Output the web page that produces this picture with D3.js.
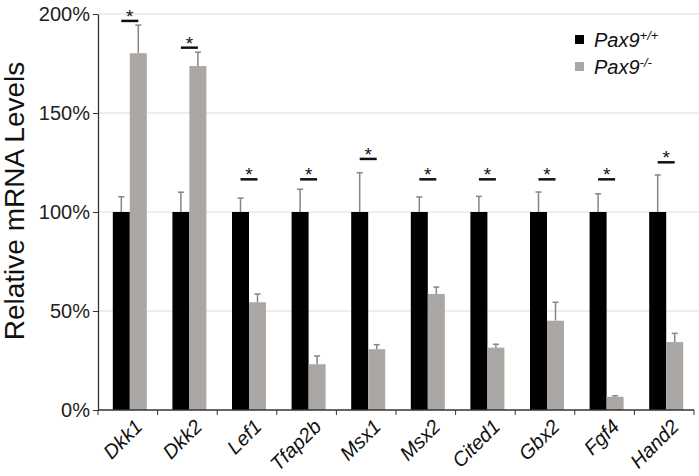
<!DOCTYPE html>
<html>
<head>
<meta charset="utf-8">
<script src="https://cdn.jsdelivr.net/npm/d3@7"></script>
<style>
  body { margin: 0; background: #fff; }
  svg { font-family: "Liberation Sans", Arial, sans-serif; }
</style>
</head>
<body>
<div id="vis"></div>
<script>
const WIDTH = 699;
const HEIGHT = 476;

// genes on the x axis
const genes = ["Dkk1", "Dkk2", "Lef1", "Tfap2b", "Msx1", "Msx2", "Cited1", "Gbx2", "Fgf4", "Hand2"];
// Pax9+/+ (set to 100%) and its error
const wildType = [100, 100, 100, 100, 100, 100, 100, 100, 100, 100];
const wildTypeErr = [7.7, 10, 7, 11.5, 19.8, 7.6, 7.9, 10.1, 9.2, 18.7];
// Pax9-/- and its error
const mutant = [180.2, 173.7, 54.4, 23.1, 30.7, 58.6, 31.5, 45.1, 6.7, 34.3];
const mutantErr = [14.2, 7, 4.2, 4.2, 2.3, 3.5, 1.7, 9.3, 0.5, 4.4];
// height of the significance marks
const sigLevel = [196.5, 183, 116.5, 116.5, 126.8, 116.5, 116.5, 116.5, 116.5, 125.1];
const yTicks = [0, 50, 100, 150, 200];

const LEFT = 98, RIGHT = 694, TOP = 14, BOTTOM = 410;
const BAR_W = 17;

const FRAME = d3.select("#vis")
  .append("svg")
    .attr("width", WIDTH)
    .attr("height", HEIGHT);

const X_SCALE = d3.scaleBand()
  .domain(genes)
  .range([LEFT, RIGHT]);

const Y_SCALE = d3.scaleLinear()
  .domain([0, 200])
  .range([BOTTOM, TOP]);

// gridlines
FRAME.append("g")
  .selectAll("line")
  .data(yTicks.filter(d => d > 0))
  .enter()
  .append("line")
    .attr("x1", LEFT)
    .attr("x2", WIDTH)
    .attr("y1", d => Y_SCALE(d))
    .attr("y2", d => Y_SCALE(d))
    .attr("stroke", "#dcdcdc")
    .attr("stroke-width", 1);

// where the pair of bars starts inside each band
const pairStart = (g) => X_SCALE(g) + (X_SCALE.bandwidth() - 2 * BAR_W) / 2 + 2;

const rows = genes.map((g, i) => ({
  gene: g, wt: wildType[i], wtErr: wildTypeErr[i],
  mu: mutant[i], muErr: mutantErr[i], sig: sigLevel[i]
}));

// error bars, upper half only
function errorBars(key, errKey, offset) {
  const g = FRAME.append("g")
    .attr("stroke", "#858585")
    .attr("stroke-width", 1.5);
  g.selectAll("line.stem")
    .data(rows)
    .enter()
    .append("line")
      .attr("x1", d => pairStart(d.gene) + offset + BAR_W / 2)
      .attr("x2", d => pairStart(d.gene) + offset + BAR_W / 2)
      .attr("y1", d => Y_SCALE(d[key]))
      .attr("y2", d => Y_SCALE(d[key] + d[errKey]));
  g.selectAll("line.cap")
    .data(rows)
    .enter()
    .append("line")
      .attr("x1", d => pairStart(d.gene) + offset + BAR_W / 2 - 3)
      .attr("x2", d => pairStart(d.gene) + offset + BAR_W / 2 + 3)
      .attr("y1", d => Y_SCALE(d[key] + d[errKey]))
      .attr("y2", d => Y_SCALE(d[key] + d[errKey]));
}
errorBars("wt", "wtErr", 0);
errorBars("mu", "muErr", BAR_W);

// bars
FRAME.append("g")
  .selectAll("rect")
  .data(rows)
  .enter()
  .append("rect")
    .attr("x", d => pairStart(d.gene))
    .attr("y", d => Y_SCALE(d.wt))
    .attr("width", BAR_W)
    .attr("height", d => BOTTOM - Y_SCALE(d.wt))
    .attr("fill", "#000");

FRAME.append("g")
  .selectAll("rect")
  .data(rows)
  .enter()
  .append("rect")
    .attr("x", d => pairStart(d.gene) + BAR_W)
    .attr("y", d => Y_SCALE(d.mu))
    .attr("width", BAR_W)
    .attr("height", d => BOTTOM - Y_SCALE(d.mu))
    .attr("fill", "#aaa7a5");

// significance marks
const sig = FRAME.append("g");
sig.selectAll("line")
  .data(rows)
  .enter()
  .append("line")
    .attr("x1", d => pairStart(d.gene) + BAR_W / 2)
    .attr("x2", d => pairStart(d.gene) + BAR_W * 1.5)
    .attr("y1", d => Y_SCALE(d.sig))
    .attr("y2", d => Y_SCALE(d.sig))
    .attr("stroke", "#111")
    .attr("stroke-width", 2.5);
sig.selectAll("text")
  .data(rows)
  .enter()
  .append("text")
    .attr("x", d => pairStart(d.gene) + BAR_W)
    .attr("y", d => Y_SCALE(d.sig) + 2)
    .attr("text-anchor", "middle")
    .attr("font-size", "19px")
    .attr("fill", "#111")
    .text("*");

// y axis
const yAxis = FRAME.append("g")
  .attr("transform", "translate(" + LEFT + ",0)")
  .call(d3.axisLeft(Y_SCALE).tickValues(yTicks).tickSize(5).tickSizeOuter(0)
    .tickFormat(d => d + "%"));
yAxis.select(".domain").attr("stroke", "#333").attr("stroke-width", 1.3);
yAxis.selectAll(".tick line").attr("stroke", "#333");
yAxis.selectAll("text")
  .attr("font-size", "20px")
  .attr("fill", "#222")
  .attr("x", -8);

// x axis: ticks on the band edges
const xAxis = FRAME.append("g")
  .attr("transform", "translate(0," + BOTTOM + ")");
xAxis.append("line")
  .attr("x1", LEFT).attr("x2", RIGHT)
  .attr("stroke", "#333").attr("stroke-width", 1.3);
xAxis.selectAll("line.edge")
  .data(genes.concat(["end"]))
  .enter()
  .append("line")
    .attr("class", "edge")
    .attr("x1", (d, i) => i < genes.length ? X_SCALE(d) : RIGHT)
    .attr("x2", (d, i) => i < genes.length ? X_SCALE(d) : RIGHT)
    .attr("y1", 0).attr("y2", 5)
    .attr("stroke", "#333");
xAxis.selectAll("text")
  .data(genes)
  .enter()
  .append("text")
    .attr("transform", d => "translate(" + (X_SCALE(d) + X_SCALE.bandwidth() / 2 + 6) + ",8) rotate(-45)")
    .attr("text-anchor", "end")
    .attr("dy", "0.7em")
    .attr("font-size", "20px")
    .attr("font-style", "italic")
    .attr("fill", "#111")
    .text(d => d);

// y title
FRAME.append("text")
  .attr("transform", "translate(24,201) rotate(-90)")
  .attr("text-anchor", "middle")
  .attr("font-size", "28px")
  .attr("fill", "#111")
  .text("Relative mRNA Levels");

// legend
const legendItems = [
  {label: "Pax9", sup: "+/+", color: "#000"},
  {label: "Pax9", sup: "-/-", color: "#aaa7a5"}
];
const legend = FRAME.append("g").attr("transform", "translate(575,35)");
legendItems.forEach((d, i) => {
  const row = legend.append("g").attr("transform", "translate(0," + (i * 27) + ")");
  row.append("rect").attr("width", 9).attr("height", 9).attr("fill", d.color);
  const t = row.append("text")
    .attr("x", 19).attr("y", 12)
    .attr("font-size", "20px")
    .attr("font-style", "italic")
    .attr("fill", "#111");
  t.append("tspan").text(d.label);
  t.append("tspan").attr("dy", -7).attr("font-size", "13px").text(d.sup);
});
</script>
</body>
</html>
